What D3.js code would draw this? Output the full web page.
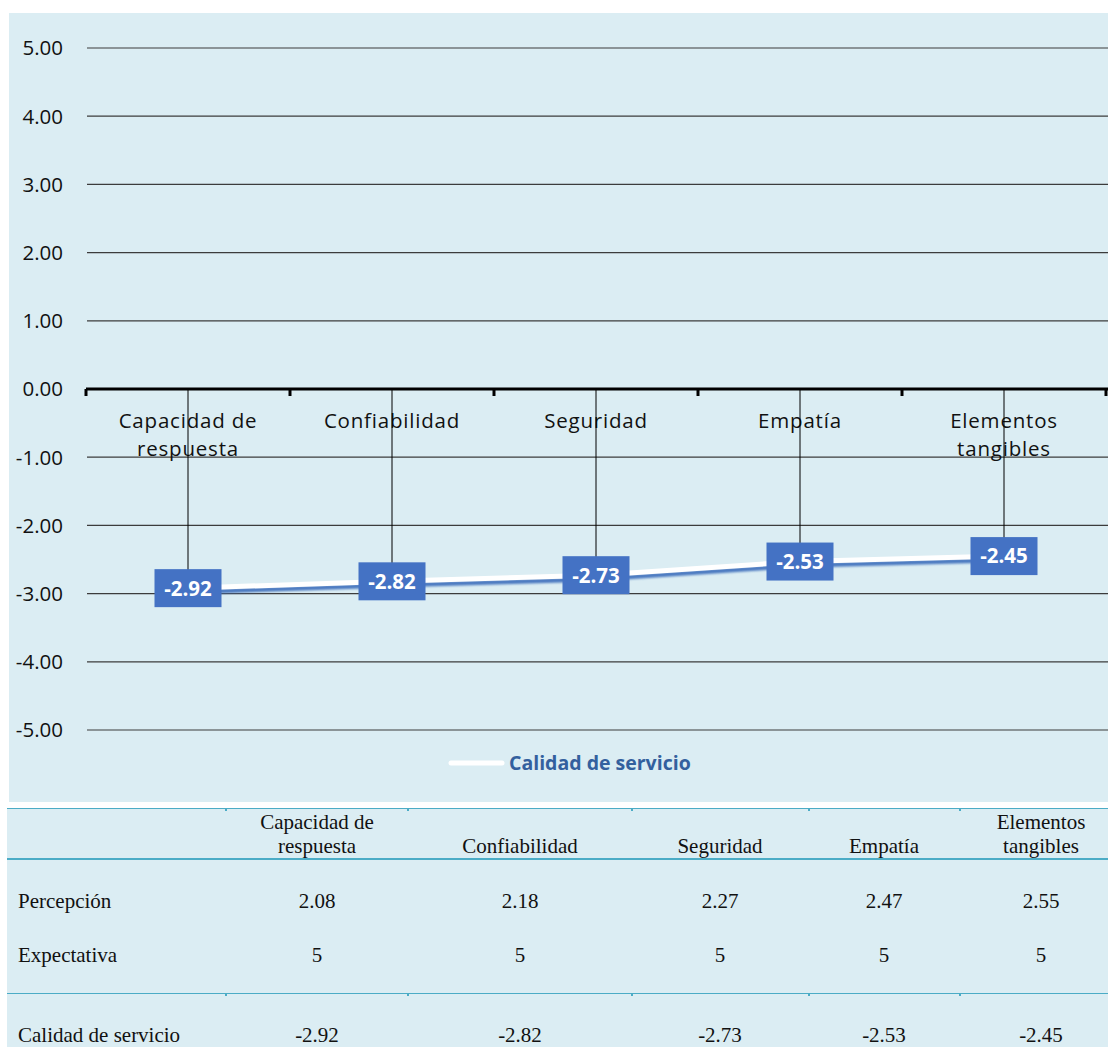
<!DOCTYPE html>
<html>
<head>
<meta charset="utf-8">
<script src="https://cdn.jsdelivr.net/npm/d3@7"></script>
<style>
  body { margin: 0; background: #ffffff; }
  svg { display: block; }
</style>
</head>
<body>
<svg id="chart" width="1108" height="1047"></svg>
<script>
// ---------- data ----------
const categories = ["Capacidad de\nrespuesta", "Confiabilidad", "Seguridad", "Empatía", "Elementos\ntangibles"];
const percepcion = [2.08, 2.18, 2.27, 2.47, 2.55];
const expectativa = [5, 5, 5, 5, 5];
const calidad = [-2.92, -2.82, -2.73, -2.53, -2.45];
const yTicks = [5, 4, 3, 2, 1, 0, -1, -2, -3, -4, -5];
const seriesName = "Calidad de servicio";
const rowNames = ["Percepción", "Expectativa", "Calidad de servicio"];

// ---------- layout ----------
const W = 1108, H = 1047;
const bg = "#DBEDF3";
const svg = d3.select("#chart");
const loc = d3.formatLocale({ decimal: ".", thousands: ",", grouping: [3], currency: ["", ""], minus: "-" });
const f2 = loc.format(".2f");

const x = d3.scaleBand().domain(categories).range([86, 1106]).paddingInner(0).paddingOuter(0);
const y = d3.scaleLinear().domain([-5, 5]).range([730, 48]);
const cx = c => x(c) + x.bandwidth() / 2;

// panel background
svg.append("rect").attr("x", 9).attr("y", 13).attr("width", W - 9).attr("height", 789).attr("fill", bg);

// gridlines
svg.append("g").selectAll("line").data(yTicks.filter(t => t !== 0)).join("line")
  .attr("x1", 87).attr("x2", W).attr("y1", d => y(d)).attr("y2", d => y(d))
  .attr("stroke", "#3c3c3c").attr("stroke-width", 1.2);

// y tick labels
svg.append("g").selectAll("text").data(yTicks).join("text")
  .attr("x", 63).attr("y", d => y(d)).attr("dy", "0.36em")
  .attr("text-anchor", "end")
  .attr("font-family", "'Open Sans', sans-serif").attr("font-size", 20.5).attr("fill", "#111")
  .text(d => f2(d));

// zero axis
const axisG = svg.append("g").attr("transform", `translate(0,${y(0)})`);
axisG.append("line").attr("x1", 86).attr("x2", W).attr("y1", 0).attr("y2", 0)
  .attr("stroke", "#000").attr("stroke-width", 3);
const bounds = categories.map(c => x(c)).concat([x.range()[1]]);
axisG.selectAll("line.tick").data(bounds).join("line").attr("class", "tick")
  .attr("x1", d => d).attr("x2", d => d).attr("y1", 0).attr("y2", 7)
  .attr("stroke", "#000").attr("stroke-width", 3);

// category labels
const catG = svg.append("g");
categories.forEach(c => {
  const t = catG.append("text")
    .attr("x", cx(c)).attr("y", 428)
    .attr("text-anchor", "middle")
    .attr("font-family", "'Open Sans', sans-serif").attr("font-size", 20.5)
    .attr("letter-spacing", "0.8px")
    .attr("fill", "#111");
  c.split("\n").forEach((line, i) => {
    t.append("tspan").attr("x", cx(c)).attr("y", 428 + i * 28).text(line);
  });
});

// drop lines
svg.append("g").selectAll("line").data(calidad).join("line")
  .attr("x1", (d, i) => cx(categories[i])).attr("x2", (d, i) => cx(categories[i]))
  .attr("y1", y(0)).attr("y2", d => y(d))
  .attr("stroke", "#000").attr("stroke-width", 1);

// series line with shadow
const defs = svg.append("defs");
defs.append("filter").attr("id", "blur").append("feGaussianBlur").attr("stdDeviation", 0.9);
const line = d3.line().x((d, i) => cx(categories[i])).y(d => y(d));
svg.append("path").datum(calidad).attr("d", line)
  .attr("transform", "translate(0,4)")
  .attr("fill", "none").attr("stroke", "#4a78c0").attr("stroke-width", 4.5)
  .attr("filter", "url(#blur)");
svg.append("path").datum(calidad).attr("d", line)
  .attr("fill", "none").attr("stroke", "#ffffff").attr("stroke-width", 5);

// data label boxes
const lab = svg.append("g").selectAll("g").data(calidad).join("g")
  .attr("transform", (d, i) => `translate(${cx(categories[i])},${y(d)})`);
lab.append("rect").attr("x", -33.5).attr("y", -19).attr("width", 67).attr("height", 38)
  .attr("fill", "#4472C4");
lab.append("text").attr("text-anchor", "middle").attr("dy", "0.36em")
  .attr("font-family", "'Open Sans', sans-serif").attr("font-weight", "bold").attr("font-size", 20.5)
  .attr("fill", "#fff").text(d => f2(d));

// legend
svg.append("line").attr("x1", 451).attr("x2", 502).attr("y1", 763).attr("y2", 763)
  .attr("stroke", "#fff").attr("stroke-width", 5).attr("stroke-linecap", "round");
svg.append("text").attr("x", 509).attr("y", 770)
  .attr("font-family", "'Open Sans', sans-serif").attr("font-weight", "bold").attr("font-size", 19.5)
  .attr("fill", "#33609E").text(seriesName);

// ---------- table ----------
const tableColX = [317, 520, 720, 884, 1041];
const tableBounds = [226, 408, 632, 809, 960];
const tableLine = "#4BACC6";
svg.append("rect").attr("x", 7).attr("y", 808).attr("width", W - 7).attr("height", H - 808).attr("fill", bg);
svg.append("line").attr("x1", 7).attr("x2", W).attr("y1", 808.5).attr("y2", 808.5)
  .attr("stroke", tableLine).attr("stroke-width", 1);
svg.append("line").attr("x1", 7).attr("x2", W).attr("y1", 859).attr("y2", 859)
  .attr("stroke", tableLine).attr("stroke-width", 2.2);
svg.append("line").attr("x1", 7).attr("x2", W).attr("y1", 993.5).attr("y2", 993.5)
  .attr("stroke", tableLine).attr("stroke-width", 1.2);
svg.append("g").selectAll("rect").data(tableBounds.concat(tableBounds)).join("rect")
  .attr("x", d => d - 1).attr("y", (d, i) => i < tableBounds.length ? 809 : 994)
  .attr("width", 2).attr("height", 2).attr("fill", tableLine);

const serif = "'Liberation Serif', 'Times New Roman', serif";
const tbl = svg.append("g").attr("font-family", serif).attr("font-size", 21).attr("fill", "#111");
categories.forEach((c, i) => {
  const lines = c.split("\n");
  lines.forEach((ln, j) => {
    tbl.append("text").attr("x", tableColX[i]).attr("y", 853 - (lines.length - 1 - j) * 24)
      .attr("text-anchor", "middle").text(ln);
  });
});
const rows = [
  { name: rowNames[0], vals: percepcion.map(f2), yb: 908 },
  { name: rowNames[1], vals: expectativa.map(String), yb: 962 },
  { name: rowNames[2], vals: calidad.map(f2), yb: 1042 }
];
rows.forEach(r => {
  tbl.append("text").attr("x", 18).attr("y", r.yb).text(r.name);
  r.vals.forEach((v, i) => {
    tbl.append("text").attr("x", tableColX[i]).attr("y", r.yb).attr("text-anchor", "middle").text(v);
  });
});
</script>
</body>
</html>
